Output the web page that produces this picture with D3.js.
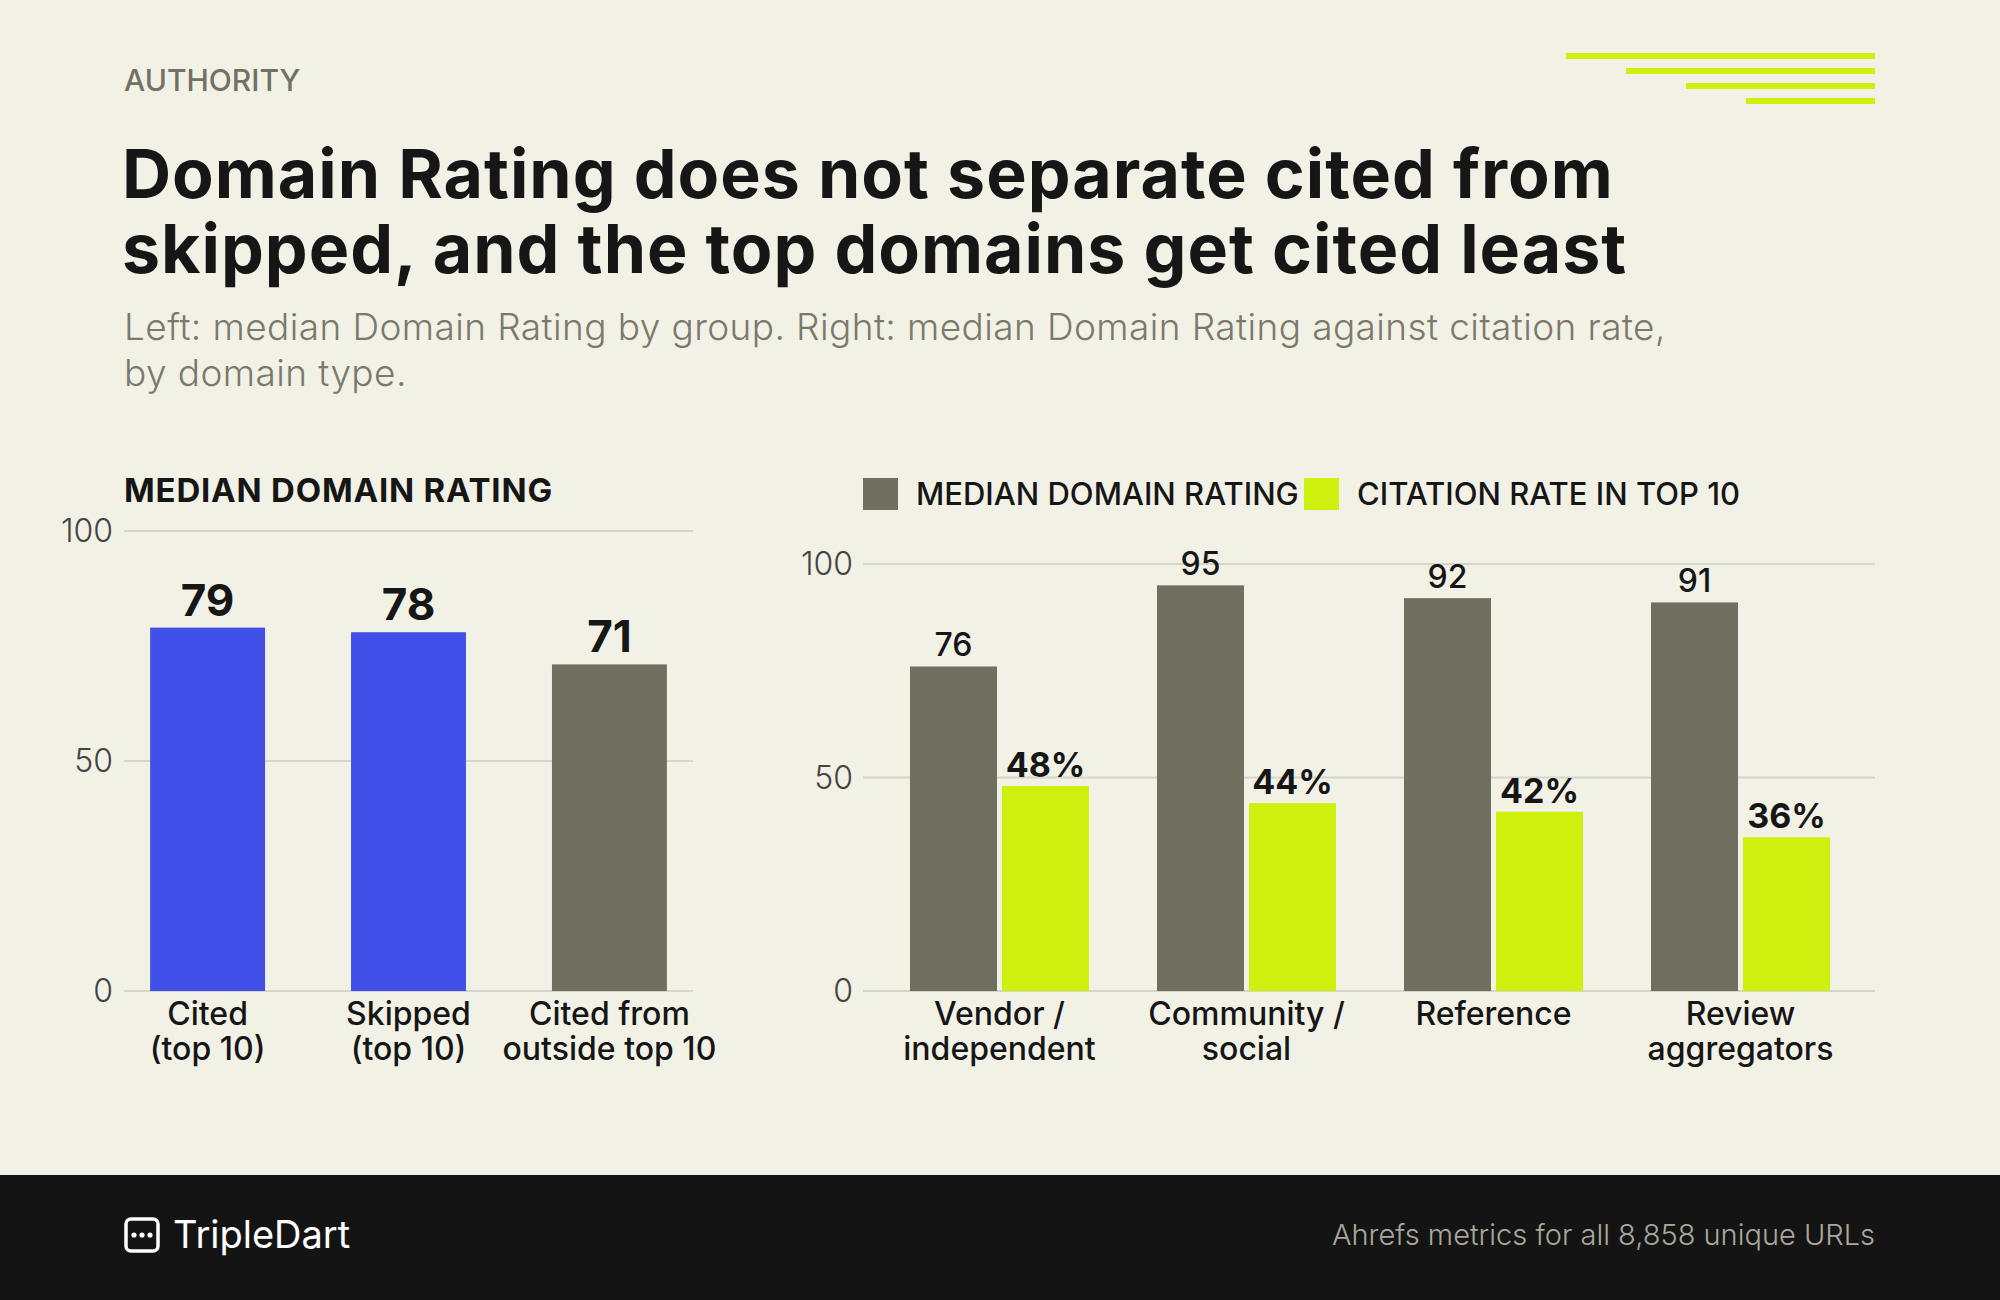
<!DOCTYPE html>
<html><head><meta charset="utf-8">
<script src="https://cdn.jsdelivr.net/npm/d3@7"></script>
<style>
body{margin:0;background:#f2f1e6;}
svg{display:block;font-family:Inter,"Noto Sans",sans-serif;}
</style></head>
<body><svg id="c" width="2000" height="1300"></svg>
<script>
const leftCats = ['Cited\n(top 10)', 'Skipped\n(top 10)', 'Cited from\noutside top 10'];
const leftVals = [79, 78, 71];
const leftColors = ['#4150e8', '#4150e8', '#706f60'];
const rightCats = ['Vendor /\nindependent', 'Community /\nsocial', 'Reference', 'Review\naggregators'];
const rightDR = [76, 95, 92, 91];
const rightRate = [48, 44, 42, 36];
const ticks = [0, 50, 100];

const svg = d3.select('#c');
const gray = '#706f60', green = '#cdf00f', ink = '#161616';
svg.append('rect').attr('width', 2000).attr('height', 1300).attr('fill', '#f2f1e6');

// header
svg.append('text').attr('x', 124).attr('y', 91).text('AUTHORITY')
    .attr('font-size', 30).attr('font-weight', 500).attr('fill', '#727163');
[[1566, 56], [1626, 71], [1686, 86], [1746, 101]].forEach(([x, y]) => {
    svg.append('rect').attr('x', x).attr('y', y - 3).attr('width', 1875 - x).attr('height', 6).attr('fill', green);
});
['Domain Rating does not separate cited from', 'skipped, and the top domains get cited least'].forEach((t, i) => {
    svg.append('text').attr('x', 122).attr('y', 198 + i * 75).text(t)
        .attr('font-size', 68).attr('font-weight', 700).attr('letter-spacing', 1).attr('fill', ink);
});
['Left: median Domain Rating by group. Right: median Domain Rating against citation rate,', 'by domain type.'].forEach((t, i) => {
    svg.append('text').attr('x', 124).attr('y', 340 + i * 46).text(t)
        .attr('font-size', 37).attr('font-weight', 300).attr('letter-spacing', 0.4).attr('fill', '#7a796c');
});

function multiline(g, x, y, s, size) {
    s.split('\n').forEach((l, i) => {
        g.append('text').attr('x', x).attr('y', y + i * 35).attr('text-anchor', 'middle')
            .attr('font-size', size).attr('font-weight', 500).attr('fill', ink).text(l);
    });
}

// left chart
const yL = d3.scaleLinear().domain([0, 100]).range([991, 531]);
const xL = d3.scaleBand().domain(leftCats).range([124, 693]).paddingInner(0.428).paddingOuter(0.13);
svg.append('text').attr('x', 124).attr('y', 502).text('MEDIAN DOMAIN RATING')
    .attr('font-size', 33).attr('font-weight', 700).attr('letter-spacing', 0.8).attr('fill', ink);
const gL = svg.append('g');
ticks.forEach(t => {
    gL.append('line').attr('x1', 124).attr('x2', 693).attr('y1', yL(t)).attr('y2', yL(t)).attr('stroke', '#d6d5c8').attr('stroke-width', 2);
    gL.append('text').attr('x', 113).attr('y', yL(t) + 11).attr('text-anchor', 'end').attr('font-size', 32).attr('font-weight', 300).attr('fill', '#444').text(t);
});
leftCats.forEach((c, i) => {
    gL.append('rect').attr('x', xL(c)).attr('y', yL(leftVals[i])).attr('width', xL.bandwidth())
        .attr('height', yL(0) - yL(leftVals[i])).attr('fill', leftColors[i]);
    gL.append('text').attr('x', xL(c) + xL.bandwidth() / 2).attr('y', yL(leftVals[i]) - 12).attr('text-anchor', 'middle')
        .attr('font-size', 44).attr('font-weight', 700).attr('fill', ink).text(leftVals[i]);
    multiline(gL, xL(c) + xL.bandwidth() / 2, 1025, c, 32);
});

// right chart
const yR = d3.scaleLinear().domain([0, 100]).range([991, 564]);
const xR = d3.scaleBand().domain(rightCats).range([876, 1864]).padding(0);
const gR = svg.append('g');
ticks.forEach(t => {
    gR.append('line').attr('x1', 863).attr('x2', 1875).attr('y1', yR(t)).attr('y2', yR(t)).attr('stroke', '#d6d5c8').attr('stroke-width', 2);
    gR.append('text').attr('x', 853).attr('y', yR(t) + 11).attr('text-anchor', 'end').attr('font-size', 32).attr('font-weight', 300).attr('fill', '#444').text(t);
});
const bw = 87, gap = 5;
rightCats.forEach((c, i) => {
    const cx = xR(c) + xR.bandwidth() / 2;
    gR.append('rect').attr('x', cx - gap / 2 - bw).attr('y', yR(rightDR[i])).attr('width', bw)
        .attr('height', yR(0) - yR(rightDR[i])).attr('fill', gray);
    gR.append('rect').attr('x', cx + gap / 2).attr('y', yR(rightRate[i])).attr('width', bw)
        .attr('height', yR(0) - yR(rightRate[i])).attr('fill', green);
    gR.append('text').attr('x', cx - gap / 2 - bw / 2).attr('y', yR(rightDR[i]) - 10).attr('text-anchor', 'middle')
        .attr('font-size', 32).attr('font-weight', 500).attr('fill', ink).text(rightDR[i]);
    gR.append('text').attr('x', cx + gap / 2 + bw / 2).attr('y', yR(rightRate[i]) - 9).attr('text-anchor', 'middle')
        .attr('font-size', 34).attr('font-weight', 700).attr('fill', ink).text(rightRate[i] + '%');
    multiline(gR, cx, 1025, c, 32);
});
// legend
[[863, gray, 'MEDIAN DOMAIN RATING'], [1304, green, 'CITATION RATE IN TOP 10']].forEach(([x, col, t]) => {
    svg.append('rect').attr('x', x).attr('y', 478).attr('width', 35).attr('height', 32).attr('fill', col);
    svg.append('text').attr('x', x + 53).attr('y', 505).attr('font-size', 31).attr('font-weight', 500).attr('fill', ink).text(t);
});

// footer
svg.append('rect').attr('x', 0).attr('y', 1175).attr('width', 2000).attr('height', 125).attr('fill', '#141414');
svg.append('rect').attr('x', 126).attr('y', 1219).attr('width', 32).attr('height', 32).attr('rx', 5)
    .attr('fill', 'none').attr('stroke', '#fff').attr('stroke-width', 3.5);
[134, 142, 150].forEach(x => svg.append('circle').attr('cx', x).attr('cy', 1235).attr('r', 2.6).attr('fill', '#fff'));
svg.append('text').attr('x', 173).attr('y', 1248).attr('font-size', 38).attr('fill', '#fff').text('TripleDart');
svg.append('text').attr('x', 1875).attr('y', 1245).attr('text-anchor', 'end').attr('font-size', 29).attr('font-weight', 300)
    .attr('fill', '#a9a89c').text('Ahrefs metrics for all 8,858 unique URLs');
</script></body></html>
